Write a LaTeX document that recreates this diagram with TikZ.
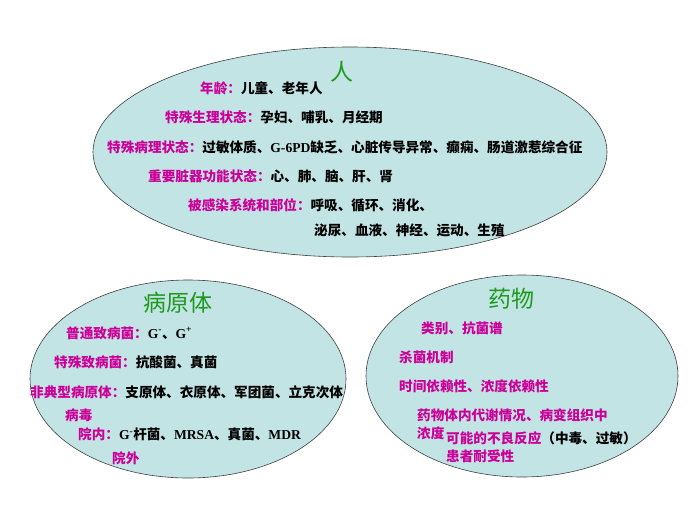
\documentclass[tikz,border=0pt]{standalone}
\usepackage{fontspec}
\setmainfont{Liberation Serif}
\newfontfamily\cjk{Noto Sans CJK SC}
\definecolor{pale}{HTML}{C2E4E4}
\definecolor{rose}{HTML}{CC0099}
\definecolor{leaf}{HTML}{1E9A1E}
\newcommand{\lb}[1]{\textcolor{rose}{#1}}
\newcommand{\lt}[1]{{\rmfamily\bfseries #1}}

\tikzset{bubble/.style={draw=black!75, fill=pale, line width=.6pt},
  txt/.style={anchor=west, inner sep=0pt, font=\cjk\bfseries\fontsize{13.6}{15}\selectfont},
  head/.style={text=leaf, inner sep=0pt, font=\cjk\fontsize{23}{26}\selectfont}}

\begin{document}
\begin{tikzpicture}[x=1pt,y=-1pt]

\fill[white] (0,0) rectangle (700,525);
\useasboundingbox (0,0) rectangle (700,525);

\draw[bubble] (350,152) ellipse (257 and 105);
\draw[bubble] (188,379) ellipse (158 and 99);
\draw[bubble] (522,376) ellipse (156 and 101);

\node[head] (ren) at (342,72) {人};

\node[txt] (age) at (200,88) {\lb{年龄：}儿童、老年人};
\node[txt] (phys) at (165,117) {\lb{特殊生理状态：}孕妇、哺乳、月经期};
\node[txt] (path) at (107,147) {\lb{特殊病理状态：}过敏体质、\lt{G-6PD}缺乏、心脏传导异常、癫痫、肠道激惹综合征};
\node[txt] (organ) at (148,176) {\lb{重要脏器功能状态：}心、肺、脑、肝、肾};
\node[txt] (site) at (188,205) {\lb{被感染系统和部位：}呼吸、循环、消化、};
\node[txt] (site2) at (314,230) {泌尿、血液、神经、运动、生殖};

%%%%%%%%%%%%%%%

\node[head] (bug) at (178,303) {病原体};

\node[txt] (common) at (66,333) {\lb{普通致病菌：}\lt{G\textsuperscript{-}}、\lt{G\textsuperscript{+}}};
\node[txt] (special) at (54,362) {\lb{特殊致病菌：}抗酸菌、真菌};
\node[txt] (atyp) at (30,392) {\lb{非典型病原体：}支原体、衣原体、军团菌、立克次体};
\node[txt] (virus) at (65,415) {\lb{病毒}};
\node[txt] (inhosp) at (78,434) {\lb{院内：}\lt{G\textsuperscript{-}}杆菌、\lt{MRSA}、真菌、\lt{MDR}};
\node[txt] (outhosp) at (112,458) {\lb{院外}};

%%%%%%%%%%%%%%%

\node[head] (drug) at (511,299) {药物};

\node[txt] (kind) at (421,328) {\lb{类别、抗菌谱}};
\node[txt] (kill) at (399,357) {\lb{杀菌机制}};
\node[txt] (dep) at (399,386) {\lb{时间依赖性、浓度依赖性}};
\node[txt] (metab) at (417,415) {\lb{药物体内代谢情况、病变组织中}};
\node[txt] (conc) at (417,433) {\lb{浓度}};
\node[txt] (adv) at (446,438) {\lb{可能的不良反应}（中毒、过敏）};
\node[txt] (tol) at (446,456) {\lb{患者耐受性}};

\end{tikzpicture}
\end{document}
